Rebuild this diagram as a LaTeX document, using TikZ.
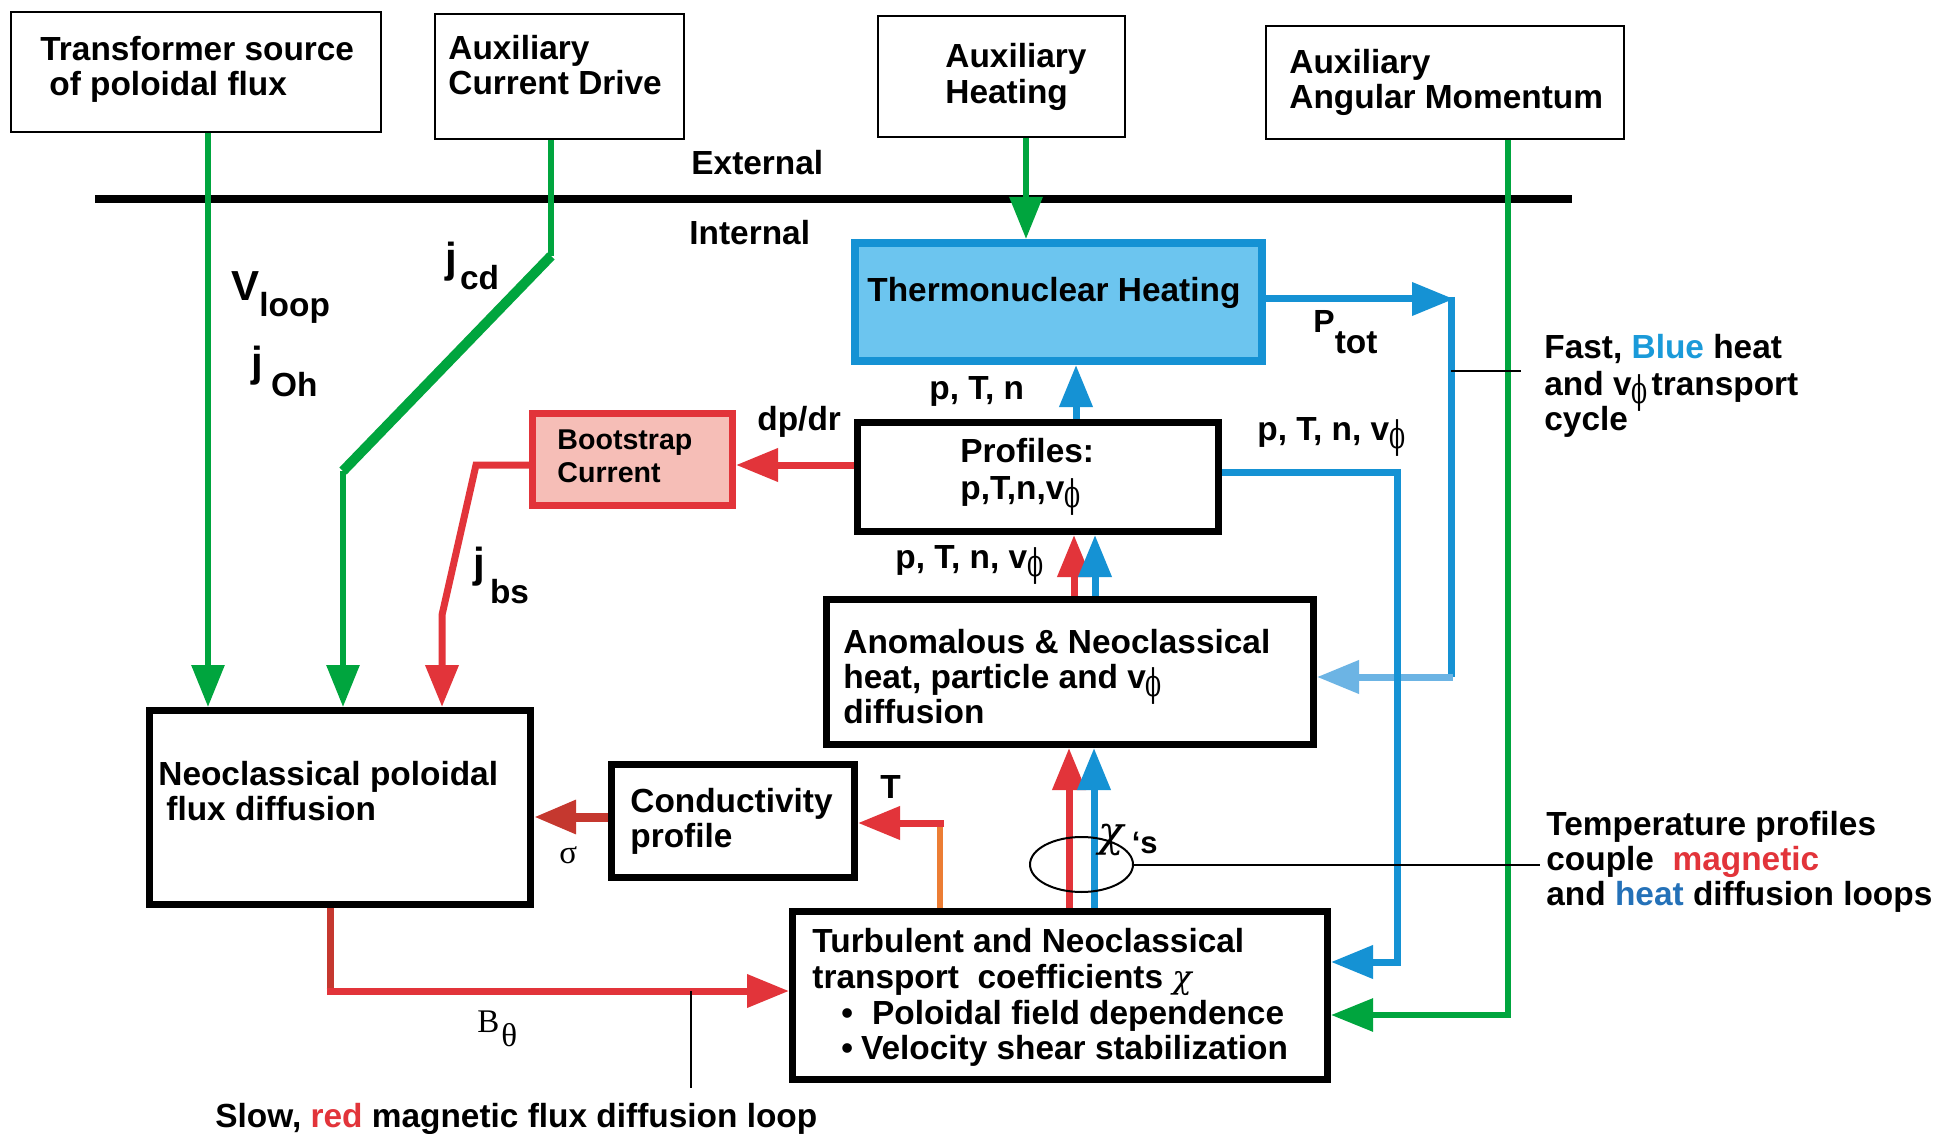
\documentclass[tikz,border=0pt]{standalone}
\usepackage{fontspec}
\setmainfont{Liberation Sans}
\newfontfamily\seriffont{Liberation Serif}
\newfontfamily\grkfont{DejaVu Serif}
\usetikzlibrary{arrows.meta,shapes.geometric}
\definecolor{cgreen}{RGB}{0,165,62}
\definecolor{cred}{RGB}{226,52,58}
\definecolor{cdred}{RGB}{197,56,47}
\definecolor{cblue}{RGB}{21,146,212}
\definecolor{clblue}{RGB}{108,180,228}
\definecolor{cfill}{RGB}{108,197,239}
\definecolor{cpink}{RGB}{246,190,183}
\definecolor{corange}{RGB}{236,125,52}
\definecolor{ctxtblue}{RGB}{26,154,217}
\definecolor{ctxtdblue}{RGB}{36,113,184}
\newcommand{\myphi}{\raisebox{-4pt}{\scalebox{0.62}[1]{\grkfont\mdseries\fontsize{19}{19}\selectfont ϕ}}}
\newcommand{\mychi}[1]{{\grkfont\mdseries\itshape\fontsize{#1}{#1}\selectfont χ}}
\newcommand{\mybigletter}[1]{{\fontsize{21}{21}\selectfont #1}}
\begin{document}
\begin{tikzpicture}[x=0.5pt,y=-0.5pt,
  lbl/.style={anchor=base west, inner sep=0pt, font=\fontsize{16.7}{20}\selectfont\bfseries},
  serlbl/.style={anchor=base west, inner sep=0pt, font=\seriffont\fontsize{16.5}{18}\selectfont},
  thinbox/.style={draw, line width=1.2pt, inner sep=0pt},
  thickbox/.style={draw, line width=3.5pt, inner sep=0pt},
  tip/.style={-{Triangle[length=21pt,width=16pt]}},
  gline/.style={draw=cgreen, line width=3pt},
  rline/.style={draw=cred, line width=3.5pt},
  bline/.style={draw=cblue, line width=3.5pt},
  leader/.style={draw=black, line width=1pt},
]
\fill[white] (0,0) rectangle (1939,1134);
\useasboundingbox (0,0) rectangle (1939,1134);

% separator
\draw[line width=4pt] (95,199) -- (1572,199);

% boxes
\node[thinbox, minimum width=185pt, minimum height=60pt] (tf) at (196,72) {};
\node[thinbox, minimum width=124.5pt, minimum height=62.5pt] (acd) at (559.5,76.5) {};
\node[thinbox, minimum width=123.5pt, minimum height=60.5pt] (ah) at (1001.5,76.5) {};
\node[thinbox, minimum width=179pt, minimum height=56.5pt] (aam) at (1445,82.5) {};
\node[draw=cblue, fill=cfill, line width=4pt, inner sep=0pt, minimum width=203.5pt, minimum height=59pt] (th) at (1058.5,302) {};
\node[thickbox, minimum width=180.5pt, minimum height=54.5pt] (prof) at (1038,477) {};
\node[draw=cred, fill=cpink, line width=3.5pt, inner sep=0pt, minimum width=100pt, minimum height=46pt] (bs) at (632.5,459.5) {};
\node[thickbox, minimum width=243.5pt, minimum height=72.5pt] (an) at (1070,672) {};
\node[thickbox, minimum width=190.5pt, minimum height=97pt] (nc) at (340,807.5) {};
\node[thickbox, minimum width=121.5pt, minimum height=56.5pt] (cp) at (733,821) {};
\node[thickbox, minimum width=267.5pt, minimum height=84pt] (tb) at (1060,995.5) {};

% connectors
\draw[gline, tip] ([xshift=6pt]tf.south) -- ([xshift=6pt]tf.south |- nc.north);

\coordinate (k1) at (551,256);
\coordinate (k2) at (343,471);
\draw[gline] ([xshift=-4.25pt]acd.south) -- (k1);
\draw[draw=cgreen, line width=5pt] (k1) -- (k2);
\draw[gline, tip] (k2) -- (k2 |- nc.north);

\draw[gline, tip] ([xshift=12.25pt]ah.south) -- ([xshift=12.25pt]ah.south |- th.north);

\coordinate (g1) at (1508,1015);
\draw[gline, tip] ([xshift=31.5pt]aam.south) -- (g1) -- (g1 -| tb.east);

\coordinate (ptip) at (1454,299);
\draw[bline, tip] (th.east |- ptip) -- (ptip);
\coordinate (bv1) at (1451,297);
\coordinate (bv2) at (1451,677);
\draw[bline] (bv1) -- (bv2);
\draw[draw=clblue, line width=3.5pt, tip] ([xshift=0.9pt]bv2) -- (bv2 -| an.east);

\draw[bline, tip] ([xshift=19pt]prof.north) -- ([xshift=19pt]prof.north |- th.south);

\coordinate (r0) at (855,465);
\draw[rline, tip] (prof.west |- r0) -- (bs.east |- r0);

\coordinate (r1) at (476,465);
\coordinate (r2) at (442,615);
\draw[rline, tip] (bs.west |- r1) -- (r1) -- (r2) -- (r2 |- nc.north);

\coordinate (b1) at (1397,472);
\coordinate (b2) at (1397,962);
\draw[bline, tip] (prof.east |- b1) -- (b1) -- (b2) -- (b2 -| tb.east);

\coordinate (ra) at (1074,596);
\coordinate (ba) at (1095,596);
\draw[rline, tip] (an.north -| ra) -- (prof.south -| ra);
\draw[bline, tip] (an.north -| ba) -- (prof.south -| ba);

\coordinate (rt) at (1069,900);
\coordinate (bt) at (1094,900);
\draw[rline, tip] (tb.north -| rt) -- (an.south -| rt);
\draw[bline, tip] (tb.north -| bt) -- (an.south -| bt);

\node[draw, ellipse, line width=1pt, inner sep=0pt, minimum width=51.5pt, minimum height=27.5pt] (el) at (1081.5,864.5) {};

\coordinate (sg) at (600,817);
\draw[draw=cdred, line width=4.5pt, tip] (cp.west |- sg) -- (nc.east |- sg);

\coordinate (o1) at (940,823);
\draw[draw=corange, line width=3pt] (tb.north -| o1) -- (o1);
\draw[rline, tip] ([xshift=2pt]o1) -- (cp.east |- o1);

\coordinate (bq) at (330,991);
\draw[draw=cdred, line width=3.5pt] (nc.south -| bq) -- (bq);
\draw[rline, tip] ([xshift=-1.75pt]bq) -- (tb.west |- bq);

% leaders
\coordinate (f1) at (1451,371);
\coordinate (f2) at (1521,371);
\draw[leader] (f1) -- (f2);
\coordinate (e2) at (1540,864.5);
\draw[leader] (el.east) -- (e2);
\coordinate (s1) at (691,991);
\coordinate (s2) at (691,1088);
\draw[leader] (s1) -- (s2);

% texts
\node[lbl] (t1a) at (40,61) {Transformer source};
\node[lbl] (t1b) at (49,96) {of poloidal flux};
\node[lbl] (t2a) at (448,60) {Auxiliary};
\node[lbl] (t2b) at (448,95) {Current Drive};
\node[lbl] (t3a) at (945,68) {Auxiliary};
\node[lbl] (t3b) at (945,104) {Heating};
\node[lbl] (t4a) at (1289,74) {Auxiliary};
\node[lbl] (t4b) at (1289,109) {Angular Momentum};
\node[lbl] (lext) at (691,175) {External};
\node[lbl] (lint) at (689,245) {Internal};
\node[lbl] (lth) at (867,302) {Thermonuclear Heating};
\node[lbl] (lptot) at (1313,333) {{\fontsize{16}{16}\selectfont P}\raisebox{-10.5pt}{tot}};
\node[lbl] (lfa) at (1544,358) {Fast, \textcolor{ctxtblue}{Blue} heat};
\node[lbl] (lfb) at (1544,395) {and v\myphi\kern2pt transport};
\node[lbl] (lfc) at (1544,430) {cycle};
\node[lbl] (lptn) at (929,400) {p, T, n};
\node[lbl] (ldp) at (757,430) {dp/dr};
\node[lbl, font=\fontsize{14.3}{17}\selectfont\bfseries] (lbsa) at (557,449) {Bootstrap};
\node[lbl, font=\fontsize{14.3}{17}\selectfont\bfseries] (lbsb) at (557,482) {Current};
\node[lbl] (lpra) at (960,462) {Profiles:};
\node[lbl] (lprb) at (960,499) {p,T,n,v\myphi};
\node[lbl] (lptr) at (1257,440) {p, T, n, v\myphi};
\node[lbl] (lptl) at (895,568) {p, T, n, v\myphi};
\node[lbl] (lana) at (843,653) {Anomalous \& Neoclassical};
\node[lbl] (lanb) at (843,688) {heat, particle and v\myphi};
\node[lbl] (lanc) at (843,723) {diffusion};
\node[lbl] (lvl) at (231,300) {\mybigletter{V}\raisebox{-8.5pt}{loop}};
\node[lbl] (ljo) at (251,377) {\mybigletter{j}\kern4pt\raisebox{-9.5pt}{Oh}};
\node[lbl] (ljc) at (445,273) {\mybigletter{j}\kern1.5pt\raisebox{-8.5pt}{cd}};
\node[lbl] (ljb) at (473,577) {\mybigletter{j}\kern2.5pt\raisebox{-13pt}{bs}};
\node[lbl] (lnca) at (158,785) {Neoclassical poloidal};
\node[lbl] (lncb) at (166,820) {flux diffusion};
\node[lbl] (lcpa) at (630,812) {Conductivity};
\node[lbl] (lcpb) at (630,847) {profile};
\node[serlbl] (lsig) at (559,863) {σ};
\node[lbl] (lT) at (880,798) {T};
\node[anchor=base west, inner sep=0pt] (lchi) at (1098,846) {\mychi{21}\kern4pt\raisebox{-3.5pt}{\fontsize{15.5}{16}\selectfont\bfseries ‘s}};
\node[lbl] (ltpa) at (1546,835) {Temperature profiles};
\node[lbl] (ltpb) at (1546,870) {couple\ \ \textcolor{cred}{magnetic}};
\node[lbl] (ltpc) at (1546,905) {and \textcolor{ctxtdblue}{heat} diffusion loops};
\node[lbl] (ltba) at (812,952) {Turbulent and Neoclassical};
\node[lbl] (ltbb) at (812,988) {transport\ \ coefficients \mychi{16}};
\node[lbl] (ltbc) at (841,1024) {•\kern9.5pt Poloidal field dependence};
\node[lbl] (ltbd) at (841,1059) {•\kern4pt Velocity shear stabilization};
\node[serlbl] (lbq) at (477,1032) {B\kern1pt\raisebox{-7pt}{θ}};
\node[lbl] (lslow) at (215,1127) {Slow, \textcolor{cred}{red} magnetic flux diffusion loop};
\end{tikzpicture}
\end{document}
